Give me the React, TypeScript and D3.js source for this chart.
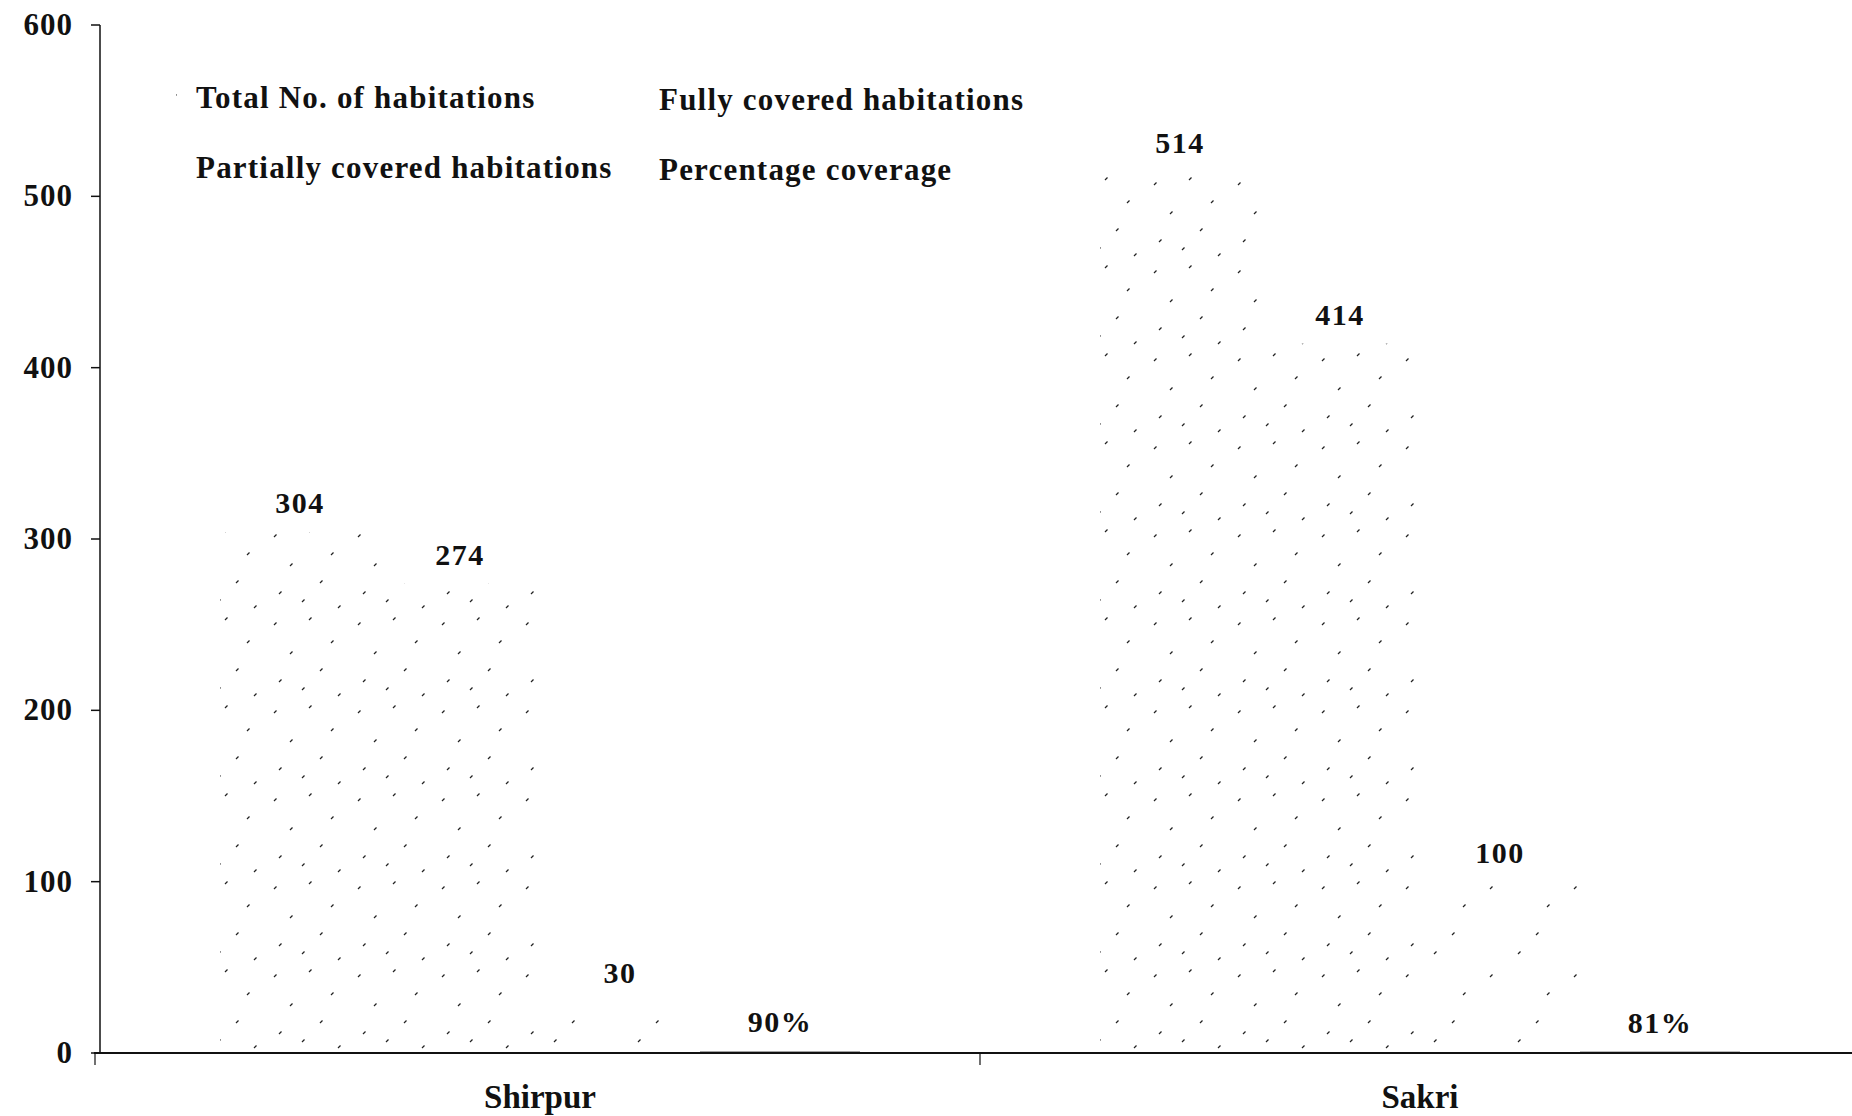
import React from 'react';
import * as d3 from 'd3';

const categories = ['Shirpur', 'Sakri'];
const seriesNames = [
  'Total No. of habitations',
  'Fully covered habitations',
  'Partially covered habitations',
  'Percentage coverage',
];
const totalHabitations = [304, 514];
const fullyCovered = [274, 414];
const partiallyCovered = [30, 100];
const percentageCoverage = [0.9, 0.81];
const yTicks = [0, 100, 200, 300, 400, 500, 600];

const seriesValues = [totalHabitations, fullyCovered, partiallyCovered, percentageCoverage];

const width = 1852;
const height = 1116;
const left = 100;
const right = 1860;
const y0 = 1053;
const yTop = 25;

const font = '"Liberation Serif", "Times New Roman", serif';

const x0 = d3.scaleBand<string>().domain(categories).range([left, right]).padding(0);
const x1 = d3
  .scaleBand<string>()
  .domain(seriesNames)
  .range([0, x0.bandwidth()])
  .paddingInner(0)
  .paddingOuter(0.75);
const y = d3.scaleLinear().domain([0, 600]).range([y0, yTop]);

const pctFormat = d3.format('.0%');

// sparse specks, roughly like the scanned hatch of the original
const specks = [
  [6, 9], [41, 4], [63, 27], [22, 38], [52, 55], [11, 66], [34, 74], [70, 80],
];

export default function App() {
  const labelFor = (si: number, v: number) => (si === 3 ? pctFormat(v) : String(v));

  return (
    <svg
      width={width}
      height={height}
      style={{ position: 'absolute', left: 0, top: 0, display: 'block', background: '#fff' }}
      fontFamily={font}
      fontWeight="bold"
    >
      <defs>
        {seriesNames.map((s, si) => (
          <pattern key={s} id={`hatch${si}`} width={84} height={88} patternUnits="userSpaceOnUse">
            <rect width={84} height={88} fill="#fff" />
            {si < 3 &&
              specks
                .filter((_, k) => si < 2 || k % 2 === 0)
                .map(([px, py], k) => (
                  <line
                    key={k}
                    x1={px}
                    y1={py}
                    x2={px + 2.5}
                    y2={py - 2.5}
                    stroke="#222"
                    strokeWidth={1.2}
                  />
                ))}
          </pattern>
        ))}
      </defs>

      {/* bars */}
      {categories.map((c, ci) => (
        <g key={c} transform={`translate(${x0(c)},0)`}>
          {seriesNames.map((s, si) => {
            const v = seriesValues[si][ci];
            const yv = y(v);
            return (
              <g key={s}>
                <rect
                  x={x1(s)}
                  y={yv}
                  width={x1.bandwidth()}
                  height={Math.max(y0 - yv, 0)}
                  fill={si === 3 ? '#555' : `url(#hatch${si})`}
                />
                <text
                  x={(x1(s) as number) + x1.bandwidth() / 2}
                  y={yv - 19}
                  textAnchor="middle"
                  fontSize={30}
                  letterSpacing={1.5}
                  fill="#111"
                >
                  {labelFor(si, v)}
                </text>
              </g>
            );
          })}
        </g>
      ))}

      {/* y axis */}
      <line x1={left} x2={left} y1={yTop} y2={y0} stroke="#111" strokeWidth={1.5} />
      {yTicks.map((t) => (
        <g key={t}>
          <line x1={left - 9} x2={left} y1={y(t)} y2={y(t)} stroke="#111" strokeWidth={1.5} />
          <text x={73} y={y(t) + 10} textAnchor="end" fontSize={31} letterSpacing={1} fill="#111">
            {t}
          </text>
        </g>
      ))}

      {/* x axis */}
      <line x1={left - 6} x2={width} y1={y0} y2={y0} stroke="#111" strokeWidth={2} />
      {[left, ...categories.map((c) => (x0(c) as number) + x0.bandwidth())].map((tx, i) => (
        <line key={i} x1={tx - (i === 0 ? 5 : 0)} x2={tx - (i === 0 ? 5 : 0)} y1={y0} y2={y0 + 12} stroke="#111" strokeWidth={1.2} />
      ))}
      {categories.map((c) => (
        <text
          key={c}
          x={(x0(c) as number) + x0.bandwidth() / 2}
          y={1108}
          textAnchor="middle"
          fontSize={33}
          fill="#111"
        >
          {c}
        </text>
      ))}

      {/* legend */}
      {seriesNames.map((s, si) => {
        const col = si % 2;
        const row = Math.floor(si / 2);
        const tx = col === 0 ? 196 : 659;
        const ty = 108 + row * 70 + col * 2;
        return (
          <g key={s}>
            <rect x={tx - 20} y={ty - 17} width={12} height={12} fill={`url(#hatch${si})`} />
            <text x={tx} y={ty} fontSize={31} letterSpacing={1.2} fill="#111">
              {s}
            </text>
          </g>
        );
      })}
    </svg>
  );
}
